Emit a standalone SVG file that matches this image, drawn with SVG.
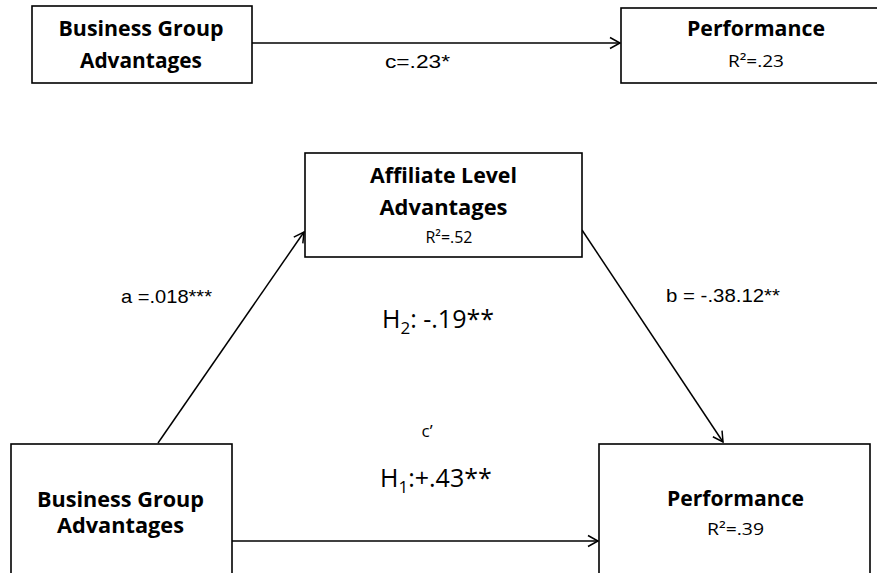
<svg xmlns="http://www.w3.org/2000/svg" width="877" height="573" viewBox="0 0 877 573">
<defs>
<style>
.box{fill:#fff;stroke:#000;stroke-width:1.6}
.t{font-family:"Open Sans","Noto Sans",sans-serif;font-weight:bold;font-size:21px;fill:#000;text-anchor:middle}
.r{font-family:"Open Sans","Noto Sans",sans-serif;font-size:17px;fill:#000;text-anchor:middle}
.h{font-family:"Open Sans","Noto Sans",sans-serif;font-size:25px;fill:#000}
.l{font-family:"Liberation Sans",Arial,sans-serif;font-size:19px;fill:#000}
.c{fill:none;stroke:#000;stroke-width:1.5}
</style>
<marker id="ah" markerWidth="14" markerHeight="14" refX="11" refY="7" orient="auto" markerUnits="userSpaceOnUse">
<path d="M1,1.5 L11,7 L1,12.5" fill="none" stroke="#000" stroke-width="1.5"/>
</marker>
</defs>
<rect width="877" height="573" fill="#fff"/>
<g id="connectors">
<line class="c" x1="252" y1="43" x2="620" y2="43" marker-end="url(#ah)"/>
<line class="c" x1="158" y1="443" x2="304" y2="232" marker-end="url(#ah)"/>
<line class="c" x1="582" y1="230" x2="723" y2="442" marker-end="url(#ah)"/>
<line class="c" x1="232" y1="541" x2="598" y2="541" marker-end="url(#ah)"/>
</g>
<g id="top-bga">
<rect class="box" x="32" y="6" width="220" height="77"/>
<text class="t" x="141" y="36" textLength="165" lengthAdjust="spacingAndGlyphs">Business Group</text>
<text class="t" x="141" y="68" textLength="122" lengthAdjust="spacingAndGlyphs">Advantages</text>
</g>
<g id="top-perf">
<rect class="box" x="621" y="8" width="270" height="75"/>
<text class="t" x="756" y="36" textLength="138" lengthAdjust="spacingAndGlyphs">Performance</text>
<text class="r" x="756" y="67" textLength="56" lengthAdjust="spacingAndGlyphs">R²=.23</text>
</g>
<g id="affiliate">
<rect class="box" x="305" y="153" width="277" height="104"/>
<text class="t" x="443.5" y="183" textLength="147" lengthAdjust="spacingAndGlyphs">Affiliate Level</text>
<text class="t" x="443.5" y="215" textLength="128" lengthAdjust="spacingAndGlyphs">Advantages</text>
<text class="r" x="449" y="243" textLength="47" lengthAdjust="spacingAndGlyphs">R²=.52</text>
</g>
<g id="bottom-bga">
<rect class="box" x="11" y="444" width="221" height="140"/>
<text class="t" x="120.5" y="507" textLength="167" lengthAdjust="spacingAndGlyphs">Business Group</text>
<text class="t" x="120.5" y="533" textLength="127" lengthAdjust="spacingAndGlyphs">Advantages</text>
</g>
<g id="bottom-perf">
<rect class="box" x="599" y="444" width="271" height="140"/>
<text class="t" x="735.5" y="506" textLength="137" lengthAdjust="spacingAndGlyphs">Performance</text>
<text class="r" x="735.5" y="535" textLength="57" lengthAdjust="spacingAndGlyphs">R²=.39</text>
</g>
<g id="labels">
<text class="l" x="385" y="68" textLength="65" lengthAdjust="spacingAndGlyphs">c=.23*</text>
<text class="l" x="121" y="303" textLength="91" lengthAdjust="spacingAndGlyphs">a =.018***</text>
<text class="l" x="666" y="302" textLength="114" lengthAdjust="spacingAndGlyphs">b = -.38.12**</text>
<text class="h" x="382" y="328">H<tspan font-size="17" dy="6">2</tspan><tspan dy="-6">: -.19**</tspan></text>
<text class="r" x="427" y="437" text-anchor="start">c’</text>
<text class="h" x="380" y="487">H<tspan font-size="17" dy="6">1</tspan><tspan dy="-6">:+.43**</tspan></text>
</g>
</svg>
